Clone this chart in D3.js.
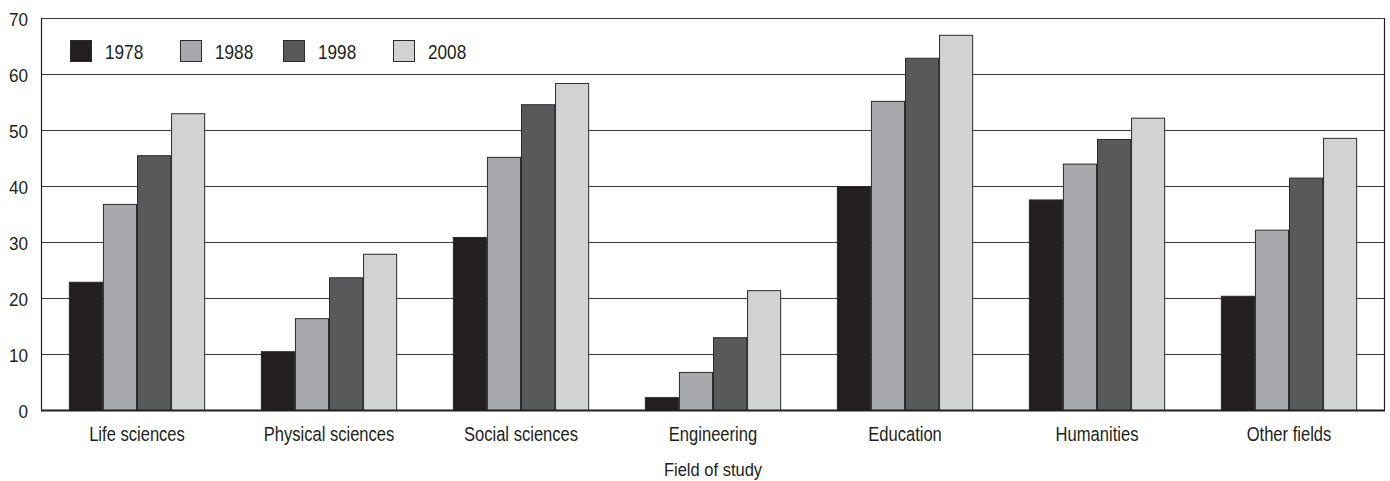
<!DOCTYPE html>
<html><head><meta charset="utf-8">
<script src="https://cdn.jsdelivr.net/npm/d3@7"></script>
<style>
body{margin:0;background:#fff;}
text{font-family:"Liberation Sans","Arial",sans-serif;fill:#231f20;}
</style></head><body>
<svg id="c" width="1390" height="481"></svg>
<script>
const categories = ["Life sciences","Physical sciences","Social sciences","Engineering","Education","Humanities","Other fields"];
const years = ["1978","1988","1998","2008"];
const v1978 = [22.9,10.5,30.9,2.3,40.0,37.6,20.4];
const v1988 = [36.8,16.4,45.2,6.8,55.2,44.0,32.2];
const v1998 = [45.5,23.7,54.6,13.0,62.9,48.4,41.5];
const v2008 = [53.0,27.9,58.4,21.4,67.0,52.2,48.6];
const yTicks = [0,10,20,30,40,50,60,70];
const colors = ["#231f20","#a7a8ab","#58595b","#d1d2d4"];
const seriesVals = [v1978,v1988,v1998,v2008];

const svg = d3.select("#c");
const m = {l:41, r:1385, t:18, b:410};
const x0 = d3.scaleBand().domain(categories).range([m.l,m.r]).paddingInner(0.29).paddingOuter(0.145);
const x1 = d3.scaleBand().domain(years).range([0,x0.bandwidth()]);
const y = d3.scaleLinear().domain([0,70]).range([m.b,m.t]);

function txt(parent, x, yy, s, size, anchor, sx){
  return parent.append("text")
    .attr("transform",`translate(${x},${yy}) scale(${sx||0.91},1)`)
    .attr("text-anchor",anchor||"start")
    .style("font-size",size+"px").text(s);
}

// gridlines
svg.append("g").selectAll("line").data(yTicks.filter(t=>t>0)).join("line")
  .attr("x1",m.l).attr("x2",m.r).attr("y1",d=>y(d)+0.5).attr("y2",d=>y(d)+0.5)
  .attr("stroke","#3a3a3a").attr("stroke-width",1);
// frame
svg.append("line").attr("x1",m.l+0.5).attr("x2",m.l+0.5).attr("y1",m.t).attr("y2",m.b).attr("stroke","#231f20").attr("stroke-width",1.2);
svg.append("line").attr("x1",m.r-0.5).attr("x2",m.r-0.5).attr("y1",m.t).attr("y2",m.b).attr("stroke","#231f20").attr("stroke-width",1.2);

// bars
const g = svg.append("g");
categories.forEach((c,i)=>{
  years.forEach((yr,j)=>{
    const val = seriesVals[j][i];
    g.append("rect")
      .attr("x",x0(c)+x1(yr)+0.5).attr("width",x1.bandwidth()-1)
      .attr("y",y(val)+0.5).attr("height",y(0)-y(val))
      .attr("fill",colors[j]).attr("stroke","#2b2b2b").attr("stroke-width",1);
  });
});

// bottom axis line
svg.append("line").attr("x1",m.l).attr("x2",m.r).attr("y1",m.b+0.5).attr("y2",m.b+0.5).attr("stroke","#231f20").attr("stroke-width",2);

// y tick labels
const yl = svg.append("g");
yTicks.forEach(d=>txt(yl, 28, y(d)+8, String(d), 19, "end", 0.9));

// category labels
const cl = svg.append("g");
categories.forEach(d=>txt(cl, x0(d)+x0.bandwidth()/2, 441, d, 19.5, "middle", 0.85));

txt(svg, 713, 476, "Field of study", 19, "middle", 0.87);

// legend
const legX = [70,180,283,393];
years.forEach((yr,j)=>{
  svg.append("rect").attr("x",legX[j]+0.5).attr("y",40.5).attr("width",21).attr("height",21)
    .attr("fill",colors[j]).attr("stroke","#2b2b2b").attr("stroke-width",1);
  txt(svg, legX[j]+35, 59, yr, 20, "start", 0.86);
});
</script>
</body></html>
